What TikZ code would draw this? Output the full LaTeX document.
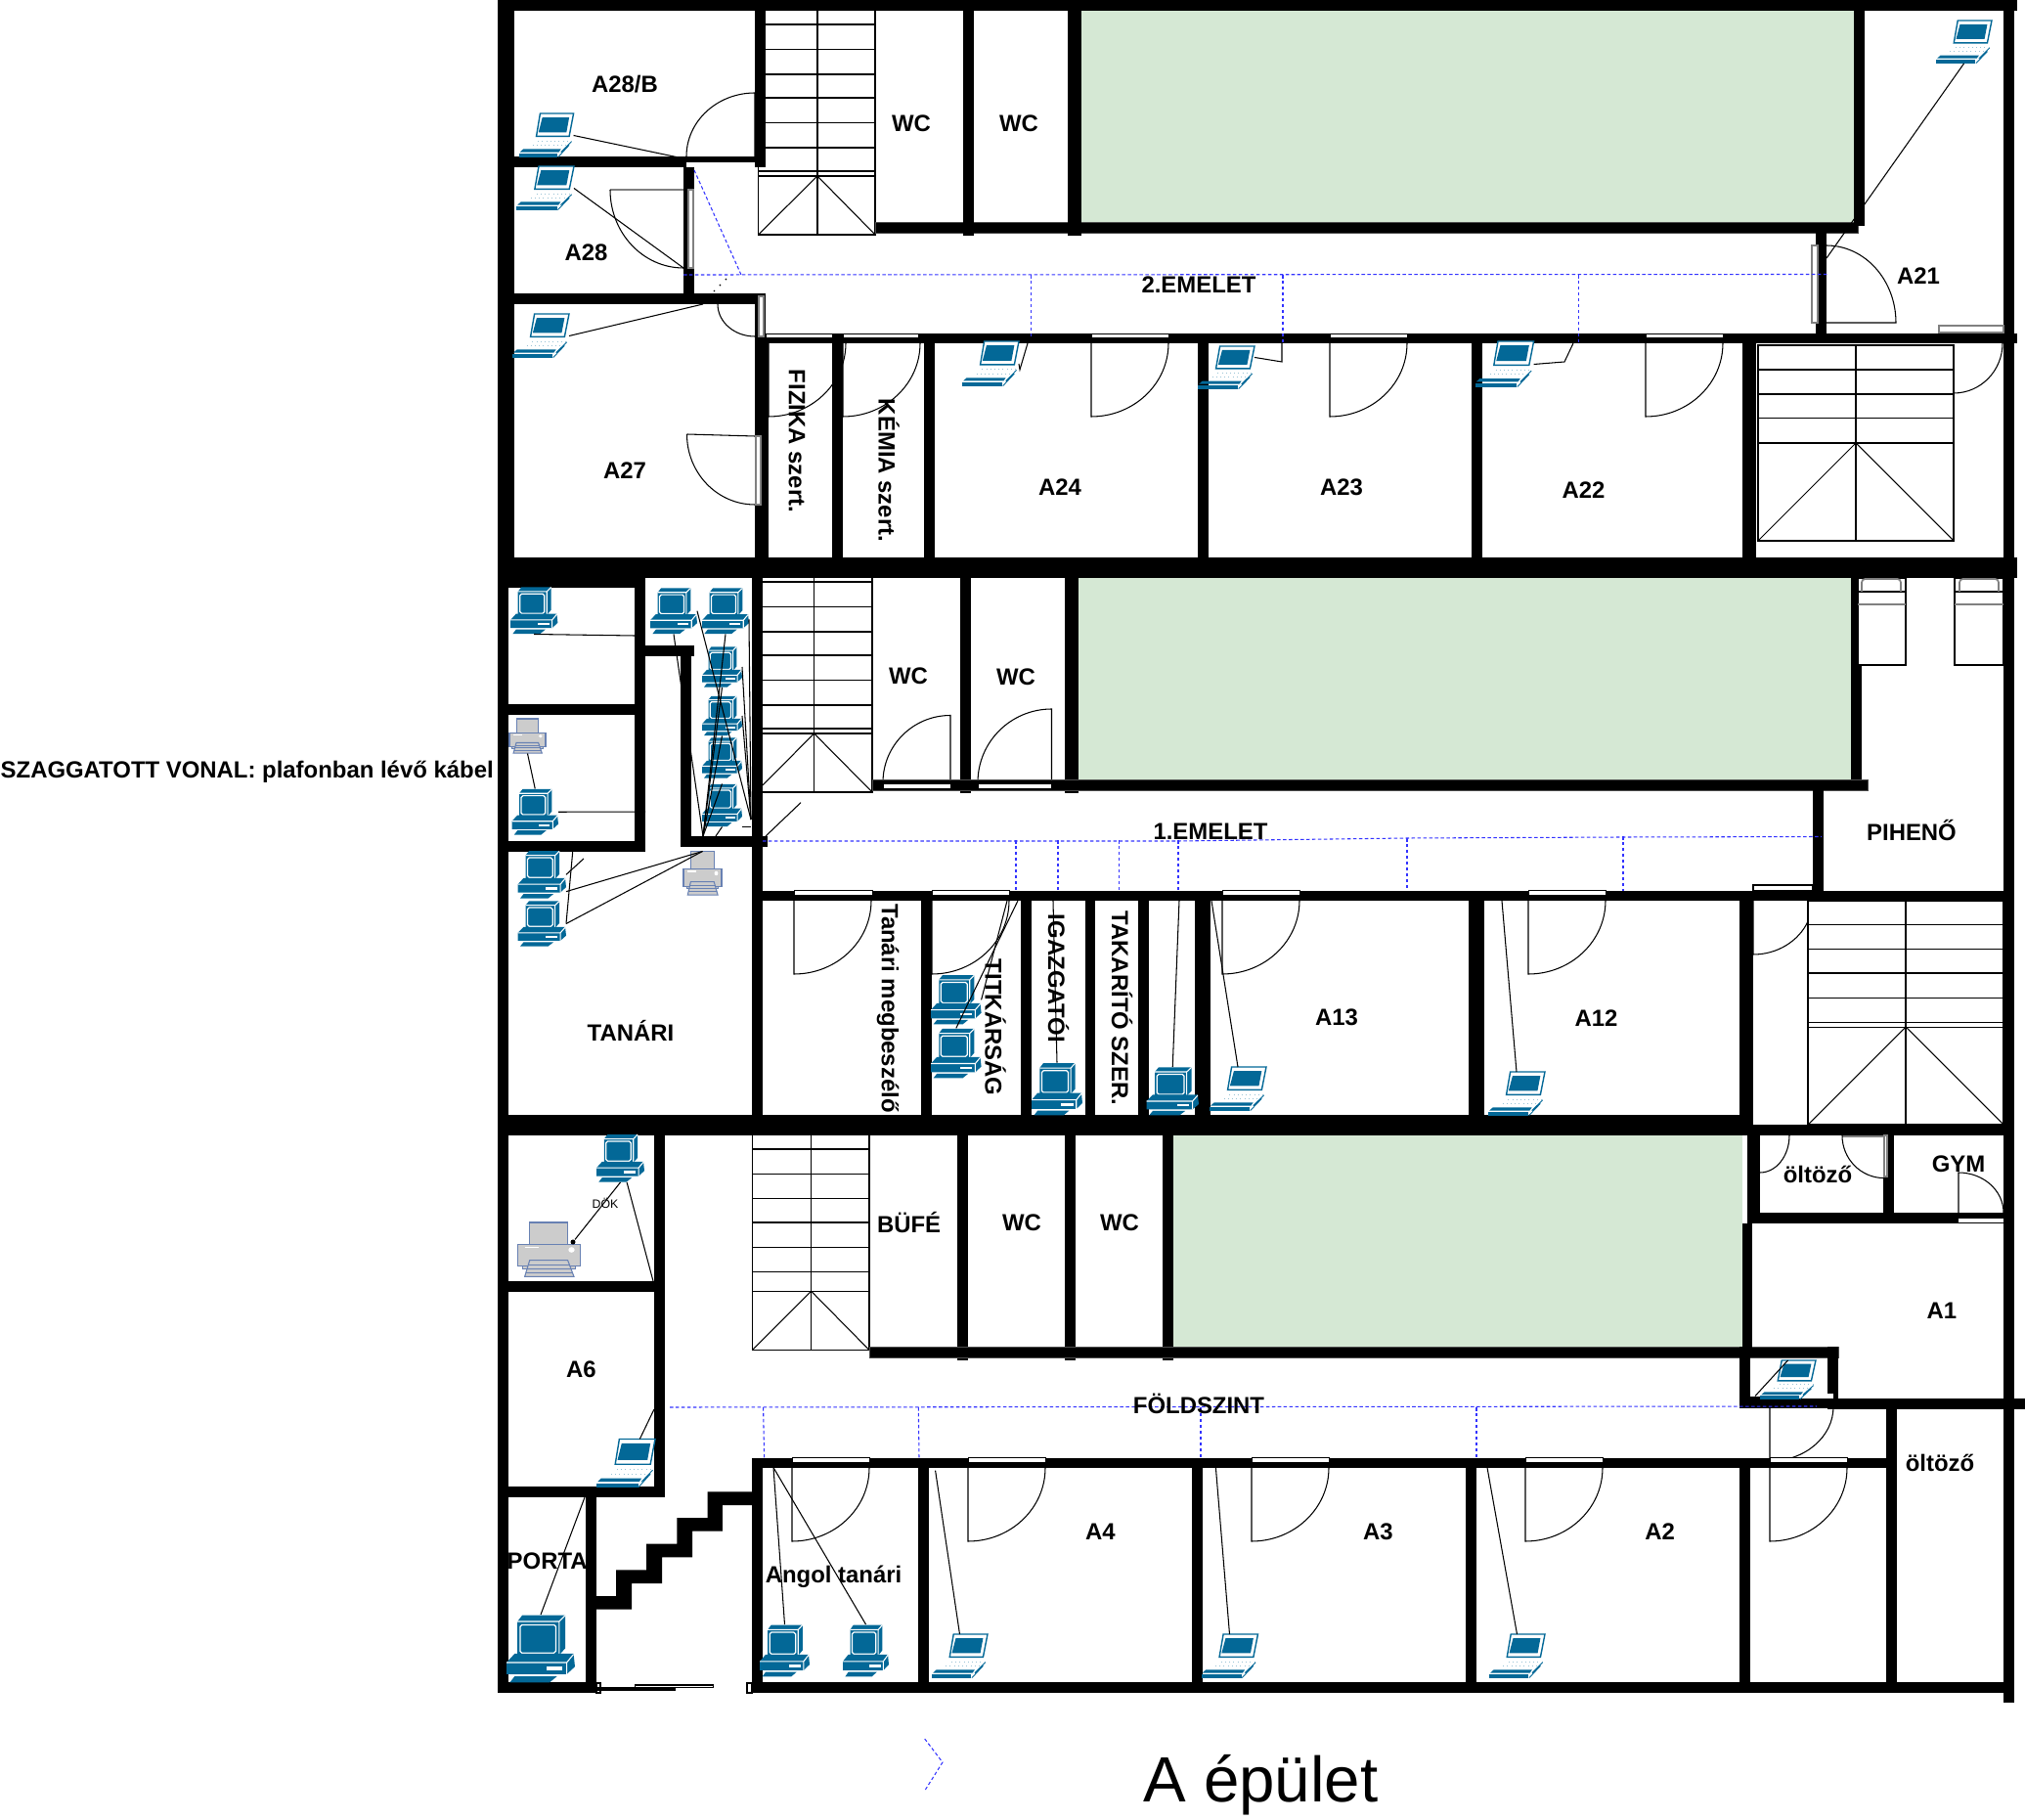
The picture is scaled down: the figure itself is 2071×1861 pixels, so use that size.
\documentclass[tikz,border=0pt]{standalone}
\usepackage{fontspec}
\setmainfont{Liberation Sans}
\definecolor{courtgreen}{HTML}{D5E8D4}
\definecolor{icoblue}{HTML}{036897}
\definecolor{prnedge}{HTML}{6881B3}
\definecolor{cablblue}{HTML}{3333FF}
% icons: name, left, top, width, height
\newcommand{\laptopicon}[5]{\node[iconbox,minimum width=#4*0.01cm,minimum height=#5*0.01cm,anchor=north west] (#1) at (#2,#3) {};
\pic[xscale=#4/100,yscale=#5/100] at (#1.north west) {laptop};}
\newcommand{\deskicon}[5]{\node[iconbox,minimum width=#4*0.01cm,minimum height=#5*0.01cm,anchor=north west] (#1) at (#2,#3) {};
\pic[xscale=#4/100,yscale=#5/100] at (#1.north west) {desktop};}
\newcommand{\printicon}[5]{\node[iconbox,minimum width=#4*0.01cm,minimum height=#5*0.01cm,anchor=north west] (#1) at (#2,#3) {};
\pic[xscale=#4/100,yscale=#5/100] at (#1.north west) {printer};}
% door opening downwards from the hinge
\newcommand{\lowerdoor}[2]{\draw[door] (#1,#2) -- ++(0,75) arc[start angle=90,end angle=0,x radius=79,y radius=75];}
\begin{document}
\begin{tikzpicture}[x=0.01cm,y=-0.01cm]
\tikzset{wall/.style={fill=black},
  edgedwall/.style={fill=black,draw=gray!60!black,line width=0.2pt},
  court/.style={fill=courtgreen},
  door/.style={line width=0.3pt},
  stairline/.style={line width=0.3pt},
  cable/.style={line width=0.3pt},
  ceiling/.style={cablblue,dashed,line width=0.3pt,dash pattern=on 1pt off 0.7pt},
  gapstrip/.style={fill=white,draw=black,line width=0.25pt},
  plainstrip/.style={fill=white},
  winstrip/.style={fill=white,draw=gray,line width=0.35pt},
  iconbox/.style={inner sep=0pt,outer sep=0pt},
  room/.style={inner sep=0pt,font=\fontsize{6.8}{8}\selectfont\bfseries},
  roomv/.style={room,rotate=-90},
  laptop/.pic={
    \fill[white] (39,0) -- (100,0) -- (92,52) -- (32,52) -- cycle;
    \draw[icoblue,line width=0.4pt] (39,0) -- (100,0) -- (92,52) -- (32,52) -- cycle;
    \fill[icoblue] (43,9) -- (92,9) -- (87,43) -- (36,43) -- cycle;
    \draw[icoblue!40,line width=0.2pt,densely dotted] (35,62) -- (96,62) (25,72) -- (88,72);
    \fill[icoblue] (8,81) -- (77,81) -- (73,88) -- (2,88) -- cycle;
    \fill[icoblue] (0,91) -- (71,91) -- (71,100) -- (0,100) -- cycle;
    \draw[icoblue,line width=0.25pt] (77,88) -- (96,64) (72,99) -- (92,72);
  },
  desktop/.pic={
    \fill[icoblue] (16,10) -- (23,1) -- (86,1) -- (86,49) -- (77,59) -- (16,59) -- cycle;
    \draw[white,line width=0.3pt] (16,10) -- (77,10) -- (86,1) (77,10) -- (77,59);
    \draw[white,line width=0.35pt,rounded corners=0.5pt] (20,15) rectangle (72,56);
    \fill[icoblue] (0,70) -- (12,57) -- (98,57) -- (100,76) -- (88,87) -- (0,87) -- cycle;
    \draw[white,line width=0.3pt] (0,70) -- (88,70) -- (98,58) (88,70) -- (88,87);
    \fill[white] (58,76) rectangle (82,81);
    \fill[icoblue] (5,99) -- (63,99) -- (74,90) -- (12,90) -- cycle;
  },
  printer/.pic={
    \filldraw[fill=gray!40,draw=prnedge,line width=0.3pt] (19,0) rectangle (80,40);
    \filldraw[fill=gray!40,draw=prnedge,line width=0.3pt] (8,80) rectangle (92,85);
    \filldraw[fill=gray!40,draw=prnedge,line width=0.3pt] (0,40) rectangle (100,80);
    \filldraw[fill=gray!40,draw=prnedge,line width=0.3pt] (19,69) -- (80,69) -- (90,99) -- (11,99) -- cycle;
    \draw[prnedge,line width=0.25pt] (17,77) -- (82,77) (15,84) -- (85,84) (13,91) -- (87,91);
    \draw[white,line width=0.4pt] (11,46) -- (34,46);
    \fill[white] (86,50) circle (5);
  }}
\useasboundingbox (0,0) rectangle (2071,1861);
% courtyards
\fill[court] (1106,11) rectangle (1896,227);
\fill[court] (1103,591) rectangle (1893,797);
\fill[court] (1200,1161) rectangle (1782,1377);
% door swings, walls come over them
\draw[door] (772,160) -- (772,95) arc[start angle=270,end angle=180,x radius=70,y radius=65];
\draw[door,gray,line width=0.6pt] (624,194) -- (704,194);
\draw[door] (624,194) arc[start angle=180,end angle=90,x radius=75,y radius=80];
\draw[door] (734,311) arc[start angle=180,end angle=90,x radius=38,y radius=33];
\draw[door] (702.5,444) -- (772,446);
\draw[door] (702.5,444) arc[start angle=180,end angle=90,x radius=69.5,y radius=72];
\lowerdoor{786}{351}
\lowerdoor{862}{351}
\lowerdoor{1116}{351}
\lowerdoor{1360}{351}
\lowerdoor{1683}{351}
\draw[door] (1998,402) arc[start angle=90,end angle=0,x radius=50,y radius=51];
\draw[door] (1868,330) -- (1939,330) arc[start angle=0,end angle=-90,x radius=71,y radius=79];
\draw[door] (972,800) -- (972,731.5) arc[start angle=270,end angle=180,x radius=69,y radius=68.5];
\draw[door] (1075.5,800) -- (1075.5,725) arc[start angle=270,end angle=180,x radius=75.5,y radius=75];
\lowerdoor{812}{921}
\lowerdoor{953}{921}
\lowerdoor{1250}{921}
\lowerdoor{1563}{921}
\draw[door] (1793,920) -- (1793,976) arc[start angle=90,end angle=23,x radius=61,y radius=56];
\lowerdoor{810}{1501}
\lowerdoor{990}{1501}
\lowerdoor{1280}{1501}
\lowerdoor{1560}{1501}
\lowerdoor{1810}{1501}
\draw[door] (1800,1199) arc[start angle=90,end angle=0,x radius=30,y radius=38];
\draw[door,gray,line width=0.5pt] (1884,1162) -- (1927,1162);
\draw[door] (1884,1161) arc[start angle=180,end angle=90,x radius=43,y radius=43.6];
\draw[door] (2003,1240) -- (2003,1199) arc[start angle=270,end angle=360,x radius=46,y radius=41];
\draw[door] (1810,1439) -- (1810,1494) arc[start angle=90,end angle=0,x radius=65,y radius=55.5];
% stairs
\draw[stairline] (775.5,171) -- (775.5,240) -- (895,240) -- (895,11);
\draw[stairline] (836,11) -- (836,240);
\draw[stairline] (783,25) -- (895,25) (783,50.5) -- (895,50.5) (783,76) -- (895,76) (783,100) -- (895,100);
\draw[stairline] (783,125.5) -- (895,125.5) (783,151) -- (895,151) (775.5,175) -- (895,175) (775.5,180) -- (895,180);
\draw[stairline] (775.5,240) -- (836,180) -- (895,240);
\filldraw[fill=white,stairline] (1798,353) rectangle (1998,553);
\draw[stairline] (1898,353) -- (1898,553);
\draw[stairline] (1798,378) -- (1998,378) (1798,403) -- (1998,403) (1798,427.5) -- (1998,427.5) (1798,453) -- (1998,453);
\draw[stairline] (1798,553) -- (1898,453) -- (1998,553);
\draw[stairline] (780,810) -- (892,810) -- (892,591);
\draw[stairline] (832.6,591) -- (832.6,810);
\draw[stairline] (780,595) -- (892,595) (780,620.5) -- (892,620.5) (780,646) -- (892,646) (780,670) -- (892,670);
\draw[stairline] (780,695.5) -- (892,695.5) (780,721) -- (892,721) (780,745) -- (892,745) (780,750) -- (892,750);
\draw[stairline] (780,803) -- (832.6,750) -- (892,810);
\filldraw[fill=white,stairline] (1849,921) rectangle (2049,1150);
\draw[stairline] (1949,921) -- (1949,1150);
\draw[stairline] (1849,945.4) -- (2049,945.4) (1849,970.3) -- (2049,970.3) (1849,995) -- (2049,995);
\draw[stairline] (1849,1020.5) -- (2049,1020.5) (1849,1045.3) -- (2049,1045.3) (1849,1050.3) -- (2049,1050.3);
\draw[stairline] (1849,1150) -- (1949,1050) -- (2049,1150);
\draw[stairline] (769.4,1161) -- (769.4,1380.4) -- (889,1380.4) -- (889,1161);
\draw[stairline] (829.6,1161) -- (829.6,1380.4);
\draw[stairline] (769.4,1175) -- (889,1175) (769.4,1200.5) -- (889,1200.5) (769.4,1225.4) -- (889,1225.4) (769.4,1250) -- (889,1250);
\draw[stairline] (769.4,1275.5) -- (889,1275.5) (769.4,1300.4) -- (889,1300.4) (769.4,1320.3) -- (889,1320.3);
\draw[stairline] (769.4,1380.4) -- (829.6,1320.3) -- (889,1380.4);
% 2.emelet walls
\fill[wall] (509,0) rectangle (2063,11);
\fill[wall] (509,0) rectangle (525.5,570);
\fill[wall] (509,570) rectangle (2063,591);
\fill[wall] (772,0) rectangle (783,171);
\fill[wall] (525,160) rectangle (783,171);
\fill[wall] (699,171) rectangle (710,311);
\fill[wall] (525,300) rectangle (783,311);
\fill[wall] (772,300) rectangle (783,345);
\fill[wall] (772,341) rectangle (786,570);
\fill[wall] (772,341) rectangle (2063,351);
\fill[wall] (851,341) rectangle (862,570);
\fill[wall] (945,341) rectangle (956,570);
\fill[wall] (1225,351) rectangle (1236,570);
\fill[wall] (1505,351) rectangle (1516,570);
\fill[wall] (1782,351) rectangle (1796,570);
\fill[wall] (2049,0) rectangle (2060,591);
\filldraw[edgedwall] (895,227) rectangle (1900,238);
\fill[wall] (985,11) rectangle (996,241);
\fill[wall] (1092,11) rectangle (1106,241);
\fill[wall] (1896,11) rectangle (1907,231);
\fill[wall] (1857,238) rectangle (1868,341);
% 1.emelet walls
\fill[wall] (509,591) rectangle (519.5,1161);
\fill[wall] (509,591) rectangle (660,601);
\fill[wall] (649,591) rectangle (660,871);
\fill[wall] (509,720) rectangle (660,731);
\fill[wall] (509,860) rectangle (660,871);
\fill[wall] (660,660) rectangle (710,671);
\fill[wall] (696,660) rectangle (707,866);
\fill[wall] (699,855) rectangle (785,866);
\fill[wall] (769,591) rectangle (780,1161);
\fill[wall] (509,1140) rectangle (1793,1161);
\fill[wall] (1793,1150) rectangle (2060,1161);
\fill[wall] (2049,591) rectangle (2060,1161);
\fill[wall] (982,591) rectangle (993,811);
\fill[wall] (1089,591) rectangle (1103,811);
\fill[wall] (1893,591) rectangle (1904,797);
\filldraw[edgedwall] (892,797) rectangle (1910,808);
\fill[wall] (1854,808) rectangle (1865,911);
\fill[wall] (780,910.6) rectangle (2060,920.6);
\fill[wall] (942,921) rectangle (953,1140);
\fill[wall] (1044,921) rectangle (1055,1140);
\fill[wall] (1110,921) rectangle (1120,1140);
\fill[wall] (1164,921) rectangle (1175,1140);
\fill[wall] (1222,921) rectangle (1238,1140);
\fill[wall] (1502,921) rectangle (1518,1140);
\fill[wall] (1779,921) rectangle (1793,1150);
% foldszint walls
\fill[wall] (509,1161) rectangle (519.5,1731);
\fill[wall] (509,1310) rectangle (680,1321);
\fill[wall] (669,1161) rectangle (680,1531);
\fill[wall] (509,1520) rectangle (680,1531);
\fill[wall] (599,1531) rectangle (610,1731);
\fill[wall] (509,1720) rectangle (610,1731);
\fill[wall] (610,1632) -- (630,1632) -- (630,1605.4) -- (661,1605.4) -- (661,1578.6) -- (692.3,1578.6) -- (692.3,1552.2) -- (723.5,1552.2) -- (723.5,1525.4) -- (769,1525.4) -- (769,1539.2) -- (738.8,1539.2) -- (738.8,1565.6) -- (708.2,1565.6) -- (708.2,1592.4) -- (677,1592.4) -- (677,1619.2) -- (646,1619.2) -- (646,1645.6) -- (610,1645.6) -- cycle;
\fill[wall] (769,1490.6) rectangle (780,1731);
\fill[wall] (769,1490.6) rectangle (1929,1500.6);
\fill[wall] (769,1720) rectangle (2060,1731);
\fill[wall] (939,1500) rectangle (949.5,1720);
\fill[wall] (1219,1500) rectangle (1229.6,1720);
\fill[wall] (1499,1500) rectangle (1510,1720);
\fill[wall] (1779,1500) rectangle (1790,1720);
\fill[wall] (979,1161) rectangle (990,1391);
\fill[wall] (1089,1161) rectangle (1100,1391);
\fill[wall] (1189,1161) rectangle (1200,1391);
\filldraw[edgedwall] (889,1377) rectangle (1880,1388);
\fill[wall] (1787,1161) rectangle (1800,1251);
\fill[wall] (1787,1240) rectangle (2049,1251);
\fill[wall] (1926,1161) rectangle (1937,1240);
\fill[wall] (1782,1251) rectangle (1792,1388);
\fill[wall] (1779,1377) rectangle (1790,1440);
\fill[wall] (1869,1377) rectangle (1880,1441);
\fill[wall] (1779,1428) rectangle (1880,1440);
\fill[wall] (1879,1430.5) rectangle (2071,1441);
\fill[wall] (1929,1441) rectangle (1940,1720);
\fill[wall] (2049,1161) rectangle (2060,1740.5);
% door gaps and windows in the walls
\fill[plainstrip] (701.5,166) rectangle (772,171);
\filldraw[winstrip] (704,194) rectangle (709,274);
\filldraw[winstrip] (776,303) rectangle (781,344);
\filldraw[winstrip] (773,446) rectangle (778,516);
\filldraw[gapstrip] (783,341) rectangle (851,345.5);
\filldraw[gapstrip] (862,341) rectangle (939,345.5);
\filldraw[gapstrip] (1116,341) rectangle (1195,345.5);
\filldraw[gapstrip] (1360,341) rectangle (1439,345.5);
\filldraw[gapstrip] (1683,341) rectangle (1762,345.5);
\filldraw[winstrip] (1853,251) rectangle (1859,330);
\filldraw[winstrip] (1983,333) rectangle (2049,340);
\filldraw[gapstrip] (903,801.5) rectangle (972,806);
\filldraw[gapstrip] (1000,801.5) rectangle (1075,806);
\filldraw[gapstrip] (812,910.6) rectangle (892,915);
\filldraw[gapstrip] (953,910.6) rectangle (1032,915);
\filldraw[gapstrip] (1250,910.6) rectangle (1329,915);
\filldraw[gapstrip] (1563,910.6) rectangle (1642,915);
\filldraw[fill=white,door] (1793,905) rectangle (1854,910.6);
\filldraw[gapstrip] (810,1490.6) rectangle (889,1495);
\filldraw[gapstrip] (990,1490.6) rectangle (1069,1495);
\filldraw[gapstrip] (1280,1490.6) rectangle (1359,1495);
\filldraw[gapstrip] (1560,1490.6) rectangle (1639,1495);
\filldraw[gapstrip] (1810,1490.6) rectangle (1889,1495);
\fill[plainstrip] (1800,1425.5) rectangle (1875,1430.5);
\fill[plainstrip] (1783,1161) rectangle (1787.3,1200);
\filldraw[winstrip] (1927,1161) rectangle (1930,1203);
\fill[plainstrip] (2003,1245.7) rectangle (2049,1250);
\filldraw[fill=white,door] (610,1721) rectangle (614,1731);
\filldraw[fill=white,door] (610,1726) rectangle (690,1728);
\filldraw[fill=white,door] (649.5,1723) rectangle (729.6,1725.6);
\filldraw[fill=white,door] (764,1721) rectangle (769,1731);
% beds
\filldraw[fill=white,door] (1900,591) rectangle (1949,680);
\filldraw[fill=white,door] (1999,591) rectangle (2049,680);
\draw[door] (1900,605) -- (1949,605) (1999,605) -- (2049,605);
\draw[gray,line width=0.5pt] (1900,618) -- (1949,618) (1999,618) -- (2049,618);
\draw[gray,line width=0.5pt,rounded corners=1pt] (1904,605) -- (1904,592) -- (1944,592) -- (1944,605);
\draw[gray,line width=0.5pt,rounded corners=1pt] (2004,605) -- (2004,592) -- (2044,592) -- (2044,605);
% ceiling cables
\draw[ceiling] (710,174) -- (758,281);
\draw[ceiling] (699,281) -- (1870,280.5);
\draw[ceiling] (1054.6,281) -- (1054.6,346);
\draw[ceiling] (1312,281) -- (1312,350);
\draw[ceiling] (1614.6,281) -- (1614.6,351);
\draw[ceiling] (780,860) -- (1205,860) -- (1439,857) -- (1660,856) -- (1863,855.5);
\draw[ceiling] (1039,859) -- (1039,910.6);
\draw[ceiling] (1082,859) -- (1082,910.6);
\draw[ceiling] (1144.5,859) -- (1144.5,910.6);
\draw[ceiling] (1205,859) -- (1205,910.6);
\draw[ceiling] (1439,857) -- (1439,910.6);
\draw[ceiling] (1660,855) -- (1660,910.6);
\draw[ceiling] (685,1439) -- (1858,1438);
\draw[ceiling] (780.6,1439) -- (781.6,1490.6);
\draw[ceiling] (939.3,1439) -- (940,1490.6);
\draw[ceiling] (1228,1439) -- (1228,1490.6);
\draw[ceiling] (1510,1439) -- (1510,1490.6);
\coordinate (arrowa) at (945.7,1778);
\coordinate (arrowb) at (964,1802);
\coordinate (arrowc) at (946.4,1830);
\draw[ceiling] (arrowa) -- (arrowb) -- (arrowc);
\draw[line width=0.4pt,dotted] (730,298) -- (747,281);
% 2.emelet machines
\laptopicon{LA28b}{530.6}{116}{56}{45}
\laptopicon{LA28}{528}{170}{59}{45}
\laptopicon{LA27}{524}{321}{58}{45}
\laptopicon{LA24}{984}{349}{58}{46}
\laptopicon{LA23}{1225}{354}{58}{44}
\laptopicon{LA22}{1508.6}{349}{60}{47}
\laptopicon{LA21}{1980}{21}{57}{44}
% 1.emelet machines
\deskicon{Dfa}{522}{600}{48.4}{48.5}
\printicon{Pfa}{521}{735}{37}{35.5}
\deskicon{Dfb}{523.5}{806.5}{47.5}{47.5}
\deskicon{Dta}{665}{601}{48}{47.5}
\deskicon{Dtb}{718}{601}{48}{47.5}
\deskicon{Dtc}{718}{661}{41}{42}
\deskicon{Dtd}{718}{711.5}{41}{41}
\deskicon{Dte}{718}{754}{41}{42}
\deskicon{Dtf}{718}{801.5}{41}{44}
\printicon{Pta}{699}{870.5}{39}{45}
\deskicon{Dtg}{529.6}{869.7}{49.4}{49.3}
\deskicon{Dth}{529.6}{921}{49.4}{47}
\deskicon{Dtk}{952}{996.7}{51.6}{51.3}
\deskicon{Dtl}{952}{1051.4}{51.6}{51.6}
\deskicon{Dig}{1055}{1086.6}{52}{54.4}
\deskicon{Dta2}{1172.5}{1091}{53.5}{50}
\laptopicon{LA13}{1237}{1091}{58}{45}
\laptopicon{LA12}{1522}{1096}{58}{45}
% foldszint machines
\deskicon{Ddok}{610}{1159.6}{49}{49.4}
\printicon{Pdok}{529.6}{1250}{63.8}{56}
\laptopicon{LA6}{610}{1471.5}{60}{49.5}
\deskicon{Dpo}{518}{1651}{70}{70}
\deskicon{Dana}{777}{1661}{51}{54}
\deskicon{Danb}{862}{1661}{47}{54}
\laptopicon{LA4}{953}{1671}{57}{45}
\laptopicon{LA3}{1228.5}{1671}{58}{45}
\laptopicon{LA2}{1523}{1671}{57}{45}
\laptopicon{LA1}{1800}{1391}{57}{40}
% wall side ends of the cables
\coordinate (pa) at (694,161);
\coordinate (pb) at (699,274);
\coordinate (pc) at (719,311);
\coordinate (pd) at (1051,351);
\coordinate (pe) at (1043,378);
\coordinate (pf) at (1311,351);
\coordinate (pg) at (1311,370);
\coordinate (ph) at (1609,351);
\coordinate (pi) at (1600,370);
\coordinate (pj) at (1868,264);
\coordinate (pk) at (649,650);
\coordinate (pl) at (660,830);
\coordinate (hub) at (719,855);
\coordinate (hubb) at (768,838);
\coordinate (pm) at (732,855);
\coordinate (pn) at (768,845.5);
\coordinate (po) at (783,855);
\coordinate (pp) at (819,820.7);
\coordinate (pq) at (585.7,871);
\coordinate (pr) at (597,878);
\coordinate (ps) at (1041,921);
\coordinate (pt) at (1030,921);
\coordinate (pu) at (1077,921);
\coordinate (pv) at (1206,921);
\coordinate (pw) at (1239,921);
\coordinate (px) at (1536,921);
\coordinate (py) at (668,1310);
\coordinate (pz) at (669,1441);
\coordinate (qa) at (598,1531);
\coordinate (qb) at (791,1500.6);
\coordinate (qc) at (956.6,1503.6);
\coordinate (qd) at (1243.4,1500.6);
\coordinate (qe) at (1521,1500.6);
\coordinate (qf) at (1795,1427.5);
\node[circle,fill=black,inner sep=0pt,minimum size=0.05cm] (pdot) at (586,1270) {};
% cables
\draw[cable] (LA28b.east) -- (pa);
\draw[cable] (LA28.east) -- (pb);
\draw[cable] (LA27.east) -- (pc);
\draw[cable] (pd) -- (pe) -- (LA24.east);
\draw[cable] (pf) -- (pg) -- (LA23.20);
\draw[cable] (ph) -- (pi) -- (LA22.east);
\draw[cable] (LA21.south) -- (pj);
\draw[cable] (Dfa.south) -- (pk);
\draw[cable] (Pfa.south) -- (Dfb.north);
\draw[cable] (Dfb.east) -- (pl);
\draw[cable] (Dta.south) -- (hub);
\draw[cable] (Dta.east) -- (hubb);
\draw[cable] (Dtb.south) -- (hub);
\draw[cable] (Dtb.-20) -- (hubb);
\draw[cable] (Dtc.east) -- (hubb);
\draw[cable] (Dtd.east) -- (hubb);
\draw[cable] (Dtc.south) -- (hub);
\draw[cable] (Dtd.south) -- (hub);
\draw[cable] (Dtf.north) -- (hub);
\draw[cable] (Dtf.south) -- (pm);
\draw[cable] (Dtf.south east) -- (pn);
\draw[cable] (po) -- (pp);
\draw[cable] (Pta.north) -- (Dtg.-35);
\draw[cable] (Pta.north) -- (Dth.east);
\draw[cable] (pq) -- (Dth.east);
\draw[cable] (pr) -- (Dtg.east);
\draw[cable] (ps) -- (Dtl.north);
\draw[cable] (pt) -- (Dtk.east);
\draw[cable] (pu) -- (Dig.north);
\draw[cable] (pv) -- (Dta2.north);
\draw[cable] (pw) -- (LA13.north);
\draw[cable] (px) -- (LA12.north);
\draw[cable] (Ddok.south) -- (pdot);
\draw[cable] (Ddok.-75) -- (py);
\draw[cable] (LA6.60) -- (pz);
\draw[cable] (Dpo.north) -- (qa);
\draw[cable] (qb) -- (Dana.north);
\draw[cable] (qb) -- (Danb.north);
\draw[cable] (qc) -- (LA4.north);
\draw[cable] (qd) -- (LA3.north);
\draw[cable] (qe) -- (LA2.north);
\draw[cable] (LA1.north) -- (qf);
% labels
\node[room] (rA28b) at (639,86) {A28/B};
\node[room] (rWCa) at (932,126.5) {WC};
\node[room] (rWCb) at (1042,126.5) {WC};
\node[room] (rA28) at (599.5,258) {A28};
\node[room] (rA27) at (639,481) {A27};
\node[room] (rA24) at (1084,498.5) {A24};
\node[room] (rA23) at (1372,498.5) {A23};
\node[room] (rA22) at (1619.6,501.6) {A22};
\node[room] (rA21) at (1962,282) {A21};
\node[room] (rEm2) at (1226,291) {2.EMELET};
\node[roomv] (rFiz) at (815,451) {FIZIKA szert.};
\node[roomv] (rKem) at (909,481) {KÉMIA szert.};
\node[room] (rWCc) at (929,691) {WC};
\node[room] (rWCd) at (1039,692) {WC};
\node[room] (rEm1) at (1238,850.5) {1.EMELET};
\node[room] (rPih) at (1955,849.5) {PIHENŐ};
\node[room] (rTan) at (645,1054) {TANÁRI};
\node[roomv] (rMeg) at (908,1031) {Tanári megbeszélő};
\node[roomv] (rTit) at (1018,1050.7) {TITKÁRSÁG};
\node[roomv] (rIgz) at (1082.7,1000.5) {IGAZGATÓI};
\node[roomv] (rTak) at (1147.5,1031) {TAKARÍTÓ SZER.};
\node[room] (rA13) at (1367,1040.7) {A13};
\node[room] (rA12) at (1632.6,1040.7) {A12};
\node[room] (rBuf) at (929.6,1250) {BÜFÉ};
\node[room] (rWCe) at (1045,1250.5) {WC};
\node[room] (rWCf) at (1145,1250.5) {WC};
\node[room] (rFol) at (1226,1435) {FÖLDSZINT};
\node[room] (rA6) at (594.4,1399.8) {A6};
\node[room] (rPor) at (559.7,1596) {PORTA};
\node[room] (rAng) at (852.6,1612) {Angol tanári};
\node[room] (rA4) at (1125.5,1566) {A4};
\node[room] (rA3) at (1409.5,1566) {A3};
\node[room] (rA2) at (1697.6,1566) {A2};
\node[room] (rOla) at (1859,1201) {öltöző};
\node[room] (rOlb) at (1984,1495.6) {öltöző};
\node[room] (rGym) at (2003,1190) {GYM};
\node[room] (rA1) at (1986,1340.6) {A1};
\node[inner sep=0pt,font=\fontsize{3.5}{4}\selectfont] (rDok) at (619,1230) {DÖK};
\node[room,anchor=west] (note) at (0,789.5) {SZAGGATOTT VONAL: plafonban lévő kábel};
\node[inner sep=0pt,anchor=base,font=\fontsize{18.6}{20}\selectfont] (title) at (1289.5,1842) {A épület};
\end{tikzpicture}
\end{document}
